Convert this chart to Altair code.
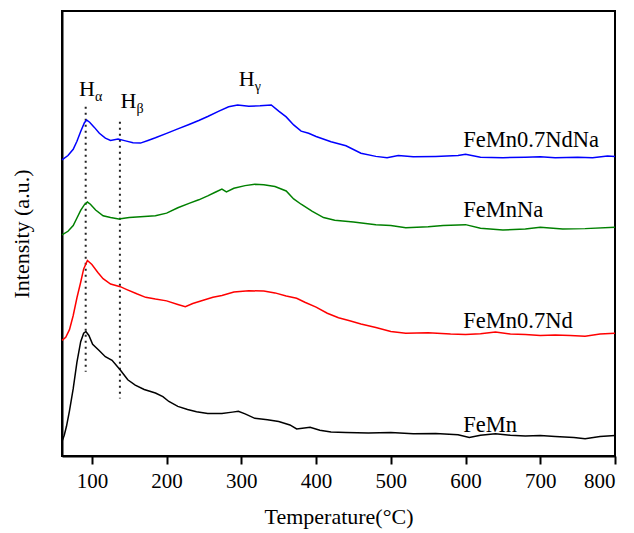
import altair as alt
import pandas as pd

# ---- data (y in arbitrary intensity units) ----
femn_x = [60, 63, 66, 70, 75, 80, 85, 89, 92, 96, 101, 109, 118, 127, 138, 148, 158, 170, 185, 195, 203,
          215, 228, 240, 255, 274, 288, 296, 305, 318, 335, 350, 365, 374, 392, 405, 420, 440, 470, 500,
          530, 560, 590, 605, 620, 640, 660, 680, 700, 720, 745, 760, 780, 800]
femn_y = [3.1, 4.5, 6.5, 10.0, 15.0, 21.0, 25.6, 27.5, 27.9, 27.0, 25.0, 23.7, 22.2, 21.4, 19.2, 17.0, 15.8,
          14.8, 14.0, 13.2, 12.1, 11.0, 10.3, 9.8, 9.4, 9.4, 9.7, 9.9, 9.3, 8.3, 8.0, 7.6, 6.8, 5.9, 6.3,
          5.6, 5.2, 5.1, 5.0, 5.1, 4.8, 4.9, 4.6, 4.0, 4.5, 4.8, 4.5, 4.3, 4.4, 4.2, 4.0, 3.7, 4.2, 4.4]

femnnd_x = [60, 65, 70, 75, 80, 85, 89, 94, 100, 108, 115, 125, 138, 146, 160, 172, 185, 200, 215, 225,
            235, 250, 262, 274, 290, 310, 330, 345, 360, 374, 385, 400, 415, 430, 445, 460, 480, 500, 520,
            550, 580, 600, 620, 640, 660, 680, 700, 720, 740, 760, 780, 800]
femnnd_y = [25.9, 26.6, 28.3, 31.5, 35.5, 39.0, 42.0, 43.9, 43.0, 41.2, 39.8, 38.6, 38.0, 37.4, 36.4, 35.6,
            35.2, 34.8, 34.0, 33.5, 34.2, 35.0, 35.6, 36.0, 36.8, 37.1, 37.0, 36.6, 35.9, 35.4, 34.5, 33.4,
            32.0, 31.0, 30.3, 29.6, 28.8, 27.9, 27.5, 27.6, 27.3, 27.2, 27.4, 27.8, 27.3, 27.2, 27.0, 27.1,
            27.0, 26.8, 27.3, 27.5]

femnna_x = [60, 68, 75, 80, 85, 90, 94, 98, 105, 115, 125, 136, 150, 165, 185, 200, 215, 230, 243, 255,
            265, 274, 280, 290, 305, 318, 330, 345, 360, 370, 380, 395, 410, 425, 450, 480, 500, 520, 550,
            570, 600, 620, 650, 680, 700, 730, 760, 800]
femnna_y = [49.7, 50.5, 51.8, 53.5, 55.2, 56.5, 57.1, 56.6, 55.3, 54.0, 53.6, 53.3, 53.6, 53.8, 54.0, 54.6,
            55.8, 56.8, 57.6, 58.5, 59.3, 60.0, 59.4, 60.2, 60.8, 61.1, 61.0, 60.6, 59.6, 57.8, 56.6, 55.0,
            53.6, 53.0, 52.6, 52.0, 51.8, 51.3, 51.5, 51.8, 52.0, 51.2, 50.8, 51.0, 51.4, 51.0, 51.1, 51.4]

femnndna_x = [60, 68, 75, 80, 85, 90, 93, 97, 103, 110, 118, 125, 135, 145, 155, 165, 175, 185, 200, 215,
              230, 243, 255, 270, 283, 295, 310, 325, 340, 350, 360, 370, 380, 390, 400, 420, 440, 460, 480,
              495, 510, 530, 560, 590, 600, 620, 650, 680, 700, 720, 750, 770, 790, 800]
femnndna_y = [66.6, 67.6, 69.0, 70.8, 73.0, 75.0, 75.6, 75.1, 74.0, 72.6, 71.5, 71.0, 71.3, 70.9, 70.5,
              70.4, 71.0, 71.6, 72.6, 73.6, 74.6, 75.5, 76.4, 77.6, 78.6, 79.0, 78.7, 78.8, 79.0, 77.6,
              76.3, 74.5, 73.1, 72.6, 71.9, 70.7, 69.8, 68.1, 67.4, 67.1, 67.6, 67.3, 67.4, 67.6, 67.9,
              67.2, 67.1, 67.2, 67.3, 67.1, 67.2, 67.1, 67.5, 67.4]

series_names = ["FeMn", "FeMn0.7Nd", "FeMnNa", "FeMn0.7NdNa"]
series_colors = ["#000000", "#ff0000", "#008000", "#0000ff"]

# curve labels (data coordinates)
label_x = [597, 597, 597, 597]
label_y = [5.3, 28.6, 53.8, 69.5]

# peak annotations H_alpha, H_beta, H_gamma (left edge of "H", baseline)
peak_x = [82.7, 138.4, 296.4]
peak_y = [81.0, 78.3, 83.3]
peak_sub = ["α", "β", "γ"]

# dotted guide lines
guide_x = [91.7, 137.5]
guide_top = [78.6, 75.2]
guide_bottom = [18.8, 12.8]

tick_values = list(range(100, 801, 50))

# ---- build tables ----
frames = []
for name, xs, ys in [("FeMn", femn_x, femn_y), ("FeMn0.7Nd", femnnd_x, femnnd_y),
                     ("FeMnNa", femnna_x, femnna_y), ("FeMn0.7NdNa", femnndna_x, femnndna_y)]:
    frames.append(pd.DataFrame({"T": xs, "I": ys, "sample": name}))
curves = pd.concat(frames, ignore_index=True)

labels_df = pd.DataFrame({"T": label_x, "I": label_y, "text": series_names})
peaks_df = pd.DataFrame({"T": peak_x, "I": peak_y, "H": ["H"] * 3, "sub": peak_sub})
guides_df = pd.DataFrame({"T": guide_x, "top": guide_top, "bottom": guide_bottom})

FONT = "'Liberation Serif', 'Times New Roman', 'DejaVu Serif', serif"
xscale = alt.Scale(domain=[60, 800], nice=False, zero=False)
yscale = alt.Scale(domain=[-0.2, 100.2], nice=False, zero=False)

x_axis = alt.Axis(
    title="Temperature(°C)",
    values=tick_values,
    labelExpr="datum.value % 100 === 0 ? datum.label : ''",
    tickSize={"condition": {"test": "datum.value % 100 !== 0", "value": 5}, "value": 8},
    tickWidth=2, tickColor="black",
    domainColor="black", domainWidth=2,
    labelFont=FONT, labelFontSize=21, labelColor="black", labelPadding=6,
    titleFont=FONT, titleFontSize=22, titleFontWeight="normal", titleColor="black", titlePadding=15,
    grid=False,
)
y_axis = alt.Axis(
    title="Intensity (a.u.)", ticks=False, labels=False, grid=False,
    domainColor="black", domainWidth=2,
    titleFont=FONT, titleFontSize=22, titleFontWeight="normal", titleColor="black", titlePadding=29,
)

lines = alt.Chart(curves).mark_line(strokeWidth=1.5).encode(
    x=alt.X("T:Q", scale=xscale, axis=x_axis),
    y=alt.Y("I:Q", scale=yscale, axis=y_axis),
    color=alt.Color("sample:N", scale=alt.Scale(domain=series_names, range=series_colors), legend=None),
    detail="sample:N",
)

guides = alt.Chart(guides_df).mark_rule(strokeDash=[2, 4], strokeWidth=2, color="#222222").encode(
    x=alt.X("T:Q", scale=xscale), y=alt.Y("top:Q", scale=yscale), y2="bottom:Q"
)

curve_labels = alt.Chart(labels_df).mark_text(
    align="left", baseline="alphabetic", font=FONT, fontSize=22.5, color="black"
).encode(x=alt.X("T:Q", scale=xscale), y=alt.Y("I:Q", scale=yscale), text="text:N")

h_text = alt.Chart(peaks_df).mark_text(
    align="left", baseline="alphabetic", font=FONT, fontSize=22, color="black"
).encode(x=alt.X("T:Q", scale=xscale), y=alt.Y("I:Q", scale=yscale), text="H:N")

sub_text = alt.Chart(peaks_df).mark_text(
    align="left", baseline="alphabetic", font=FONT, fontSize=14, color="black", dx=16, dy=5
).encode(x=alt.X("T:Q", scale=xscale), y=alt.Y("I:Q", scale=yscale), text="sub:N")

chart = alt.layer(guides, lines, curve_labels, h_text, sub_text).properties(
    width=553, height=445,
    autosize=alt.AutoSizeParams(type="none"),
    padding={"left": 62, "top": 11, "right": 19, "bottom": 77},
    background="white",
).configure_view(stroke="black", strokeWidth=2)

chart.save("out.html", embed_options={"renderer": "svg", "actions": False})
